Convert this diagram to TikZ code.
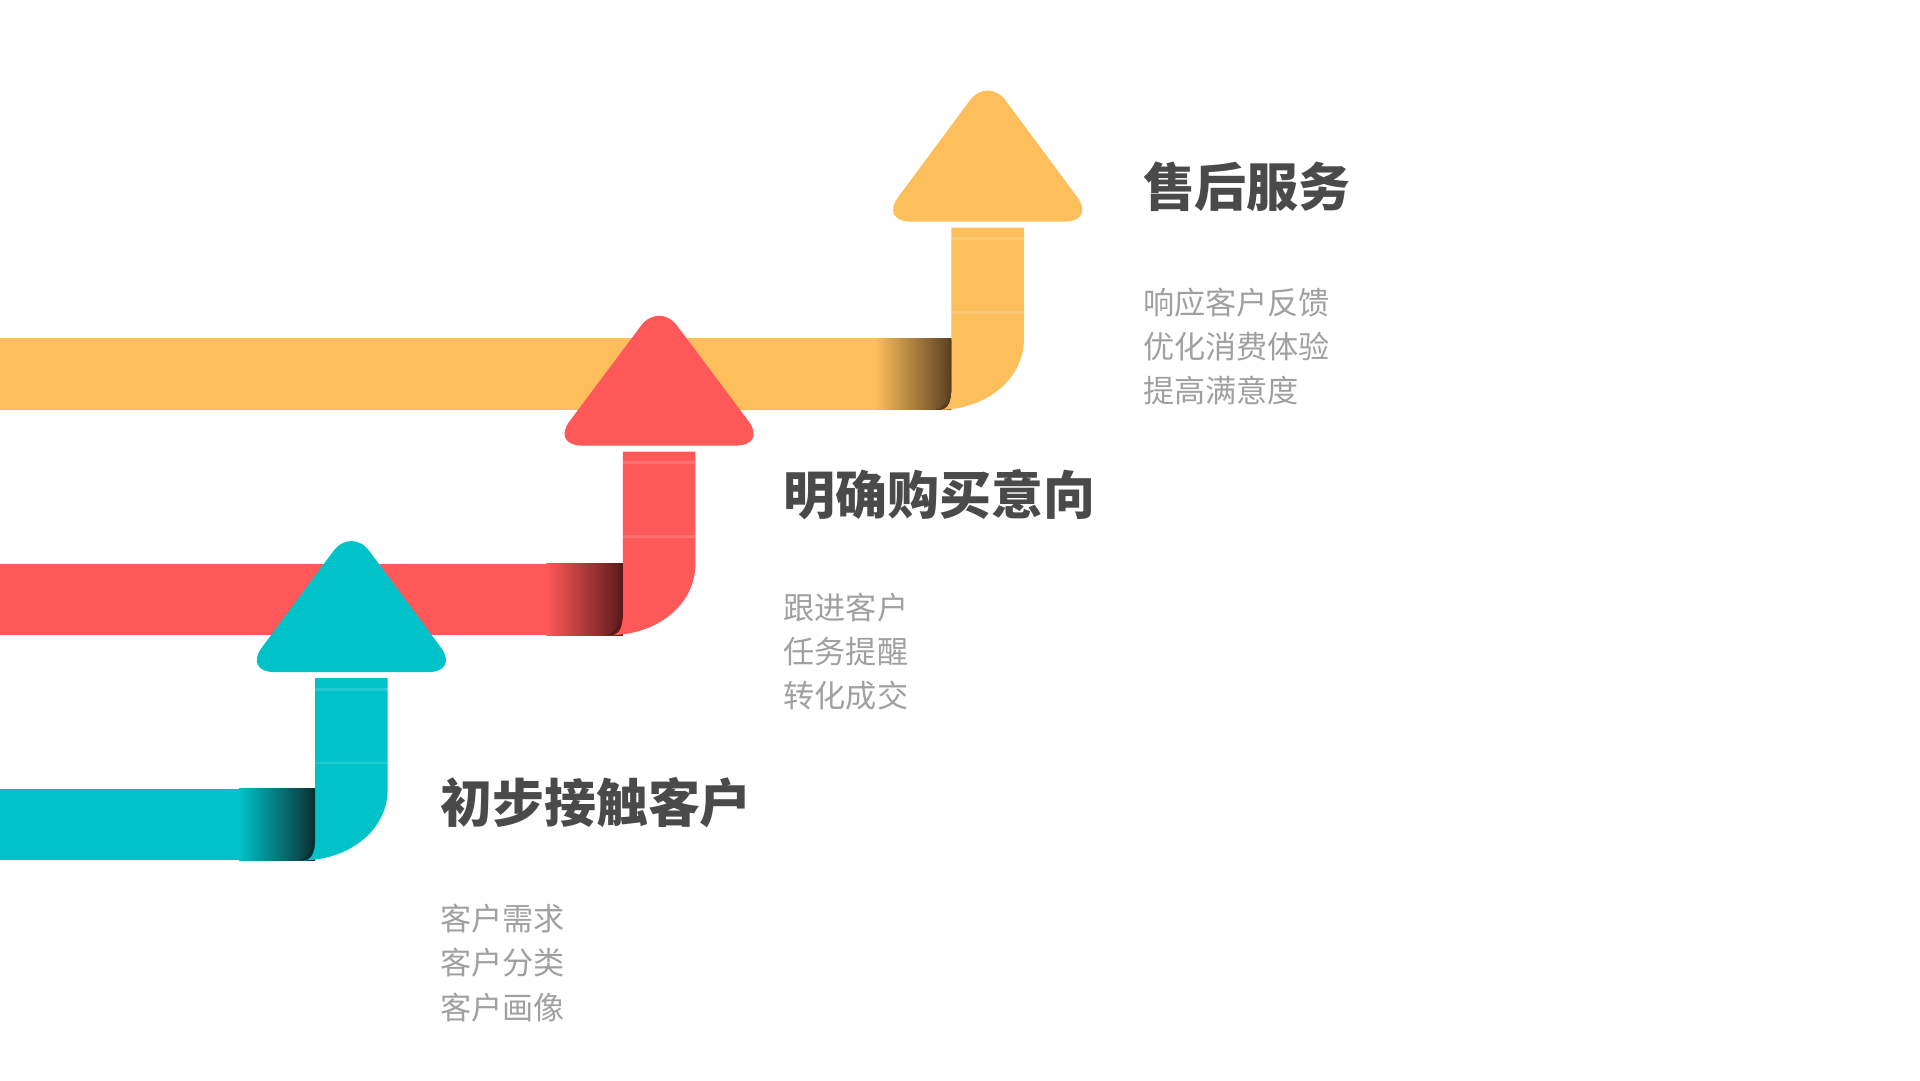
\documentclass[tikz,border=0pt]{standalone}
\usepackage{fontspec}
\setmainfont{Noto Sans CJK SC}
\usetikzlibrary{shadings}
\definecolor{cOr}{HTML}{FDBE5C}
\definecolor{cRe}{HTML}{FF5858}
\definecolor{cTe}{HTML}{00C2C9}
\definecolor{dOr}{HTML}{5A4020}
\definecolor{dRe}{HTML}{5A1A1A}
\definecolor{dTe}{HTML}{0B2F30}
\definecolor{tDark}{HTML}{4A4A4A}
\definecolor{tGray}{HTML}{A0A0A0}
\tikzset{
  ttl/.style={anchor=west,text=tDark,font=\fontsize{12}{14}\selectfont\bfseries,inner sep=0pt},
  dsc/.style={anchor=north west,text=tGray,font=\fontsize{7.2}{10.2}\selectfont,align=left,inner sep=0pt},
}
% #1 colour, #2 dark, #3 L, #4 bar top, #5 head base, #6 tip y
\newcommand\stepArrow[6]{%
  \pgfmathsetmacro\R{#3+59}\pgfmathsetmacro\B{#4+58}%
  \pgfmathsetmacro\C{#3+29.5}\pgfmathsetmacro\HL{#3-58}\pgfmathsetmacro\HR{#3+117}%
  \fill[#1] (0,#4) rectangle (#3,\B);
  \shade[left color=#1,right color=#2] (#3-62,#4) rectangle (#3,\B);
  \fill[#1] (#3,#5+5) -- (\R,#5+5) -- (\R,#4) to[out=-90,in=0] (#3-10,\B)
     to[out=0,in=-90] (#3,#4+30) -- cycle;
  \fill[#2] (#3,#4) -- (#3,#4+30) to[out=-90,in=0] (#3-10,\B) -- (#3-14,\B) to[out=10,in=-90] (#3-2,#4+20) -- (#3-2,#4) -- cycle;
  \draw[white,opacity=0.15,line width=0.6pt] (#3,#5+14) -- (\R,#5+14) (#3,#5+74) -- (\R,#5+74);
  \fill[#1,rounded corners=7] (\HL,#5) -- (\C,#6) -- (\HR,#5) -- cycle;
}
\begin{document}
\begin{tikzpicture}[x=0.01cm,y=-0.01cm]
\useasboundingbox (0,0) rectangle (1560,877.5);
\stepArrow{cOr}{dOr}{773}{275}{180}{62}
\stepArrow{cRe}{dRe}{506}{458}{362}{245}
\stepArrow{cTe}{dTe}{256}{641}{546}{428}
\node[ttl] (t1) at (928,152) {售后服务};
\node[dsc] (d1) at (928,233) {响应客户反馈\\优化消费体验\\提高满意度};
\node[ttl] (t2) at (636,402) {明确购买意向};
\node[dsc] (d2) at (636,481) {跟进客户\\任务提醒\\转化成交};
\node[ttl] (t3) at (357,652) {初步接触客户};
\node[dsc] (d3) at (357,734) {客户需求\\客户分类\\客户画像};
\end{tikzpicture}
\end{document}
